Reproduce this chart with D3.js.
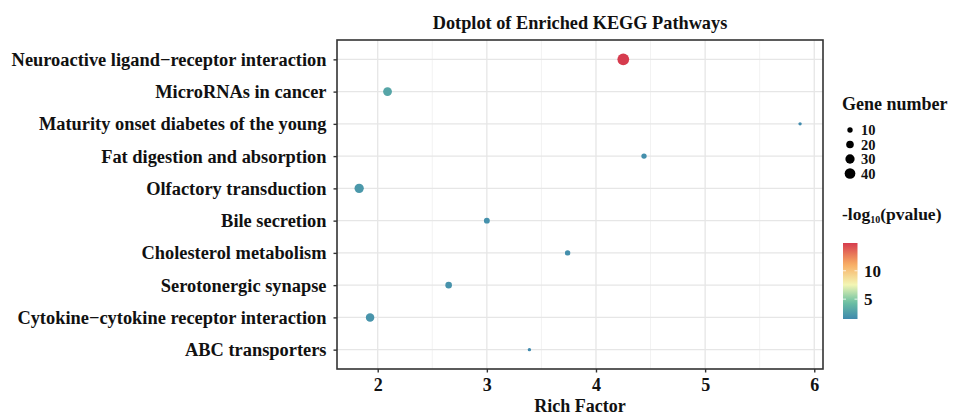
<!DOCTYPE html>
<head>
    <title>Dotplot of Enriched KEGG Pathways</title>
    <script src='https://d3js.org/d3.v7.min.js'></script>
</head>
<style>
body {
  margin: 0;
  background: #fff;
  font-family: 'Liberation Serif', 'Times New Roman', serif;
}

text {
    font-weight: bold;
    fill: #111;
}
</style>
<body>
    <svg></svg>
</body>

<script>
    // pathways, top to bottom
    var pathways = ['Neuroactive ligand\u2212receptor interaction', 'MicroRNAs in cancer',
        'Maturity onset diabetes of the young', 'Fat digestion and absorption',
        'Olfactory transduction', 'Bile secretion', 'Cholesterol metabolism',
        'Serotonergic synapse', 'Cytokine\u2212cytokine receptor interaction', 'ABC transporters'];
    var richFactor = [4.25, 2.09, 5.87, 4.44, 1.83, 3.0, 3.74, 2.65, 1.93, 3.39];
    var geneNumber = [48, 27, 4, 10, 30, 12, 10, 15, 25, 4];
    var logP = [14.9, 3.0, 1.6, 1.8, 2.3, 1.9, 1.8, 2.0, 2.1, 1.5];

    var xTicks = [2, 3, 4, 5, 6];
    var xMinor = [2.5, 3.5, 4.5, 5.5];
    var sizeBreaks = [10, 20, 30, 40];
    var colorBreaks = [5, 10];

    var vWidth = 953;
    var vHeight = 416;
    var m = { left: 337, top: 40, right: 823, bottom: 369 };

    var svg = d3.select('svg')
        .attr('width', vWidth)
        .attr('height', vHeight);

    var x = d3.scaleLinear().domain([1.627, 6.08]).range([m.left, m.right]);
    var y = d3.scalePoint().domain(pathways).range([m.top, m.bottom]).padding(0.6);
    var r = d3.scaleSqrt().domain([0, 50]).range([0, 6]);

    var pMin = d3.min(logP), pMax = d3.max(logP);
    var color = d3.scaleLinear()
        .domain([0, 0.22, 0.45, 0.72, 1].map(function (t) { return pMin + t * (pMax - pMin); }))
        .range(['#3f89ad', '#6cc1a2', '#f3f6b4', '#f8ad63', '#d63c4e']);

    // grid
    var grid = svg.append('g');
    grid.selectAll('.minor').data(xMinor).enter().append('line')
        .attr('x1', x).attr('x2', x).attr('y1', m.top).attr('y2', m.bottom)
        .attr('stroke', '#f2f2f2').attr('stroke-width', 1);
    grid.selectAll('.major').data(xTicks).enter().append('line')
        .attr('x1', x).attr('x2', x).attr('y1', m.top).attr('y2', m.bottom)
        .attr('stroke', '#e6e6e6').attr('stroke-width', 1.3);
    grid.selectAll('.hmajor').data(pathways).enter().append('line')
        .attr('x1', m.left).attr('x2', m.right).attr('y1', y).attr('y2', y)
        .attr('stroke', '#e6e6e6').attr('stroke-width', 1.3);

    // points
    svg.append('g').selectAll('circle').data(pathways).enter().append('circle')
        .attr('cx', function (d, i) { return x(richFactor[i]); })
        .attr('cy', function (d) { return y(d); })
        .attr('r', function (d, i) { return r(geneNumber[i]); })
        .attr('fill', function (d, i) { return color(logP[i]); });

    // panel border
    svg.append('rect')
        .attr('x', m.left).attr('y', m.top)
        .attr('width', m.right - m.left).attr('height', m.bottom - m.top)
        .attr('fill', 'none').attr('stroke', '#333').attr('stroke-width', 1.6);

    // axes
    var xAxis = svg.append('g')
        .attr('transform', 'translate(0,' + m.bottom + ')')
        .call(d3.axisBottom(x).tickValues(xTicks).tickFormat(d3.format('d')).tickSize(3.5).tickPadding(6));
    var yAxis = svg.append('g')
        .attr('transform', 'translate(' + m.left + ',0)')
        .call(d3.axisLeft(y).tickSize(3.5).tickPadding(7));
    [xAxis, yAxis].forEach(function (a) {
        a.attr('font-family', null).attr('font-size', 18);
        a.select('.domain').remove();
        a.selectAll('line').attr('stroke', '#333').attr('stroke-width', 1.4);
        a.selectAll('text').attr('fill', '#111');
    });
    yAxis.attr('font-size', 18.4);

    // title and axis title
    svg.append('text').attr('x', (m.left + m.right) / 2).attr('y', 29)
        .attr('text-anchor', 'middle').attr('font-size', 18.3)
        .text('Dotplot of Enriched KEGG Pathways');
    svg.append('text').attr('x', (m.left + m.right) / 2).attr('y', 412)
        .attr('text-anchor', 'middle').attr('font-size', 18)
        .text('Rich Factor');

    // size legend
    var lg = svg.append('g');
    lg.append('text').attr('x', 842).attr('y', 110).attr('font-size', 18).text('Gene number');
    var sy = d3.scalePoint().domain(sizeBreaks).range([130, 173.5]);
    lg.selectAll('circle').data(sizeBreaks).enter().append('circle')
        .attr('cx', 850).attr('cy', sy).attr('r', r).attr('fill', '#000');
    lg.selectAll('.lab').data(sizeBreaks).enter().append('text')
        .attr('x', 861).attr('y', function (d) { return sy(d) + 5; })
        .attr('font-size', 14.5).text(function (d) { return d; });

    // colour legend
    var ct = lg.append('text').attr('x', 842).attr('y', 220).attr('font-size', 17.5);
    ct.append('tspan').text('-log');
    ct.append('tspan').attr('font-size', 10).attr('dy', 3).text('10');
    ct.append('tspan').attr('dy', -3).text('(pvalue)');

    var cb = { x: 843, y0: 243, y1: 319, w: 14.5 };
    var cy = d3.scaleLinear().domain([pMin, pMax]).range([cb.y1, cb.y0]);
    var grad = svg.append('defs').append('linearGradient')
        .attr('id', 'cbar').attr('x1', 0).attr('x2', 0).attr('y1', 1).attr('y2', 0);
    grad.selectAll('stop').data(d3.range(0, 1.0001, 0.05)).enter().append('stop')
        .attr('offset', function (t) { return t; })
        .attr('stop-color', function (t) { return color(pMin + t * (pMax - pMin)); });
    lg.append('rect').attr('x', cb.x).attr('y', cb.y0).attr('width', cb.w)
        .attr('height', cb.y1 - cb.y0).attr('fill', 'url(#cbar)');
    lg.selectAll('.ctick').data(colorBreaks).enter().append('line')
        .attr('x1', cb.x).attr('x2', cb.x + 3).attr('y1', cy).attr('y2', cy)
        .attr('stroke', '#fff').attr('stroke-width', 0.8);
    lg.selectAll('.ctick2').data(colorBreaks).enter().append('line')
        .attr('x1', cb.x + cb.w - 3).attr('x2', cb.x + cb.w).attr('y1', cy).attr('y2', cy)
        .attr('stroke', '#fff').attr('stroke-width', 0.8);
    lg.selectAll('.clab').data(colorBreaks).enter().append('text')
        .attr('x', 864).attr('y', function (d) { return cy(d) + 6; })
        .attr('font-size', 17).text(function (d) { return d; });
</script>
